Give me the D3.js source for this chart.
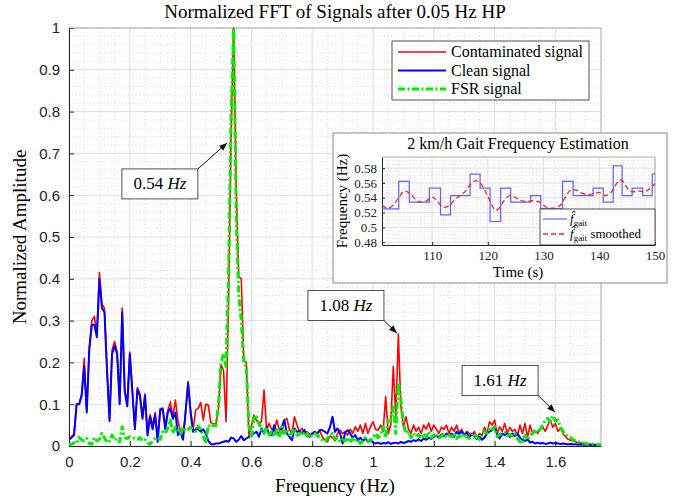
<!DOCTYPE html>
<html>
<head>
<meta charset="utf-8">
<script src="https://cdn.jsdelivr.net/npm/d3@7"></script>
<style>
  body { margin: 0; background: #fff; }
  svg { display: block; }
</style>
</head>
<body>
<div id="chart"></div>
<script>
// FFT bins are 1/120 Hz apart, 0 .. 1.75 Hz
const freqStep = 1 / 120;

const contaminated = [
  0.015,0.022,0.03,0.10,0.10,0.125,0.21,0.085,0.235,0.30,0.31,0.27,0.415,0.34,0.33,0.185,0.065,0.23,0.25,0.225,
  0.105,0.33,0.135,0.10,0.225,0.135,0.04,0.14,0.125,0.07,0.125,0.03,0.075,0.05,0.08,0.02,0.09,0.085,0.05,0.085,
  0.105,0.07,0.11,0.06,0.035,0.02,0.08,0.155,0.085,0.04,0.086,0.09,0.104,0.062,0.10,0.098,0.056,0.053,0.053,0.09,
  0.195,0.18,0.058,0.35,0.75,1.0,0.62,0.405,0.40,0.205,0.20,0.026,
  0.046,0.074,0.062,0.05,0.06,0.134,0.038,0.054,0.04,0.034,0.062,0.04,0.03,0.062,0.066,0.04,0.03,0.07,0.05,0.034,
  0.042,0.03,0.034,0.028,0.03,0.034,0.03,0.036,0.022,0.014,0.01,0.024,0.02,0.012,0.03,0.038,0.03,0.034,0.026,0.04,
  0.03,0.046,0.035,0.05,0.03,0.054,0.03,0.046,0.058,
  0.04,0.038,0.05,0.035,0.118,0.03,0.05,0.19,0.07,0.268,0.094,0.046,0.07,0.04,0.03,0.05,0.035,
  0.045,0.03,0.05,0.04,0.055,0.035,0.05,0.04,0.03,0.045,0.04,0.05,0.03,
  0.045,0.035,0.05,0.03,0.04,0.025,0.035,0.03,0.025,0.035,0.02,0.03,0.025,0.045,0.03,0.058,0.05,
  0.062,0.03,0.046,0.035,0.054,0.03,0.045,0.035,0.04,0.025,0.05,0.03,0.054,
  0.02,0.05,0.03,0.035,0.03,0.04,0.045,0.035,0.05,0.062,0.045,0.054,0.035,
  0.042,0.03,0.022,0.016,0.014,0.012,0.01,0.008,0.007,0.006,0.005,0.005,0.004,0.004,0.003,0.003,0.003
];

const clean = [
  0.015,0.02,0.026,0.10,0.10,0.12,0.19,0.08,0.23,0.29,0.29,0.26,0.40,0.33,0.32,0.18,0.06,0.22,0.24,0.22,
  0.10,0.32,0.13,0.095,0.22,0.13,0.04,0.135,0.12,0.065,0.12,0.025,0.07,0.04,0.075,0.01,0.085,0.09,0.04,0.08,
  0.09,0.065,0.08,0.026,0.034,0.015,0.08,0.15,0.08,0.034,0.04,0.04,0.035,0.04,0.03,
  0.012,0.005,0.004,0.006,0.006,0.008,0.01,0.012,0.01,0.02,0.018,0.01,0.015,0.024,0.014,0.018,0.022,
  0.026,0.03,0.034,0.022,0.042,0.03,0.046,0.028,0.026,0.05,0.034,0.03,0.046,0.062,0.03,0.022,0.014,0.042,0.034,0.036,
  0.03,0.038,0.024,0.022,0.03,0.034,0.03,0.038,0.038,0.034,0.03,0.045,0.07,0.034,0.042,0.03,0.006,0.032,0.038,0.03,
  0.02,0.026,0.014,0.02,0.012,0.018,0.01,0.016,0.008,
  0.006,0.008,0.005,0.007,0.006,0.009,0.005,0.007,0.008,0.006,0.01,0.007,0.009,0.012,0.01,0.014,0.012,
  0.016,0.012,0.018,0.015,0.02,0.017,0.022,0.025,0.02,0.028,0.024,0.03,0.026,
  0.03,0.022,0.034,0.028,0.035,0.026,0.032,0.02,0.03,0.024,0.016,0.022,0.015,0.02,0.03,0.034,0.038,
  0.045,
  0.028,0.018,0.03,0.026,0.03,0.022,0.03,0.024,0.03,0.02,0.015,0.012,
  0.016,0.008,0.01,0.006,0.008,0.006,0.007,0.005,0.006,0.008,0.006,0.007,
  0.006,0.005,0.006,0.005,0.004,0.005,0.004,0.004,0.003,0.004,0.003,0.003,0.003,0.002,0.003,0.002,0.002,0.002
];

const fsr = [
  0.005,0.004,0.008,0.006,0.02,0.015,0.012,0.018,0.006,0.004,0.02,0.012,0.016,0.03,0.02,0.008,0.012,0.026,0.014,0.018,
  0.01,0.046,0.02,0.018,0.022,0.02,0.018,0.016,0.02,0.012,0.015,0.008,0.004,0.012,0.018,0.02,0.016,0.034,0.03,0.042,
  0.062,0.03,0.045,0.04,0.03,0.045,0.036,0.04,0.045,0.04,0.035,0.048,0.04,0.022,0.01,0.05,0.045,0.05,
  0.048,0.10,0.20,0.22,0.19,0.42,0.80,1.0,0.55,0.36,0.30,0.20,0.19,0.05,
  0.02,0.072,0.07,0.054,0.038,0.03,0.046,0.026,0.034,0.022,0.038,0.02,0.046,0.03,0.04,0.028,0.03,0.042,0.026,0.028,
  0.035,0.024,0.03,0.02,0.028,0.03,0.026,0.02,0.014,0.01,0.018,0.026,0.03,0.016,0.02,0.01,0.015,0.012,0.02,0.008,
  0.018,0.01,0.016,0.006,0.012,0.02,0.01,0.014,0.02,
  0.03,0.02,0.026,0.046,0.02,0.06,0.062,0.094,0.03,0.152,0.11,0.054,0.03,0.035,0.02,0.03,0.022,
  0.028,0.018,0.03,0.022,0.034,0.02,0.026,0.03,0.018,0.024,0.03,0.02,0.026,
  0.022,0.03,0.018,0.025,0.02,0.03,0.022,0.018,0.025,0.03,0.02,0.016,0.028,0.035,0.03,0.045,0.04,
  0.046,0.022,0.028,0.03,0.032,0.025,0.028,0.024,0.03,0.018,0.01,0.006,0.026,
  0.015,0.026,0.03,0.04,0.032,0.04,0.05,0.062,0.066,0.058,0.072,0.06,0.062,
  0.045,0.035,0.028,0.022,0.02,0.015,0.012,0.01,0.008,0.007,0.006,0.005,0.005,0.004,0.004,0.003,0.003
];

const xTicks = [0, 0.2, 0.4, 0.6, 0.8, 1, 1.2, 1.4, 1.6];
const xTickLabels = ["0", "0.2", "0.4", "0.6", "0.8", "1", "1.2", "1.4", "1.6"];
const yTicks = [0, 0.1, 0.2, 0.3, 0.4, 0.5, 0.6, 0.7, 0.8, 0.9, 1];
const yTickLabels = ["0", "0.1", "0.2", "0.3", "0.4", "0.5", "0.6", "0.7", "0.8", "0.9", "1"];

const seriesNames = ["Contaminated signal", "Clean signal", "FSR signal"];

// peak annotations: label, arrow tip (Hz, amp), box centre (Hz, amp)
const peakLabels = ["0.54", "1.08", "1.61"];
const peakTips = [[0.52, 0.725], [1.079, 0.27], [1.599, 0.081]];
const peakBoxes = [[0.299, 0.627], [0.911, 0.336], [1.418, 0.157]];

// inset: gait frequency estimate (step) and smoothed version
const gaitStepTimes = [101,104.0,105.9,109.5,111.5,113.3,116.8,118.6,120.4,122.3,124.1,127.7,129.5,133.4,135.3,138.9,140.7,142.5,144.1,145.9,147.8,149.5,150];
const gaitStepFreq  = [0.525,0.562,0.534,0.553,0.517,0.543,0.572,0.553,0.508,0.553,0.534,0.543,0.525,0.562,0.543,0.553,0.534,0.583,0.543,0.553,0.543,0.572,0.572];
const smoothTimes = [101,102,103,104,105,106,107,108,109,110,111,112,113,114,115,116,117,117.8,118.5,119,120,121,121.5,122,123,124,125,126,127,128,129,130,131,132,133,134,135,136,137,138,139,140,141,142,143,143.8,144.5,145,146,147,148,149,150];
const smoothFreq  = [0.530,0.526,0.530,0.540,0.549,0.546,0.538,0.534,0.536,0.541,0.535,0.527,0.529,0.537,0.543,0.549,0.559,0.563,0.561,0.556,0.542,0.526,0.523,0.526,0.537,0.543,0.540,0.536,0.535,0.536,0.535,0.530,0.526,0.526,0.530,0.542,0.551,0.550,0.546,0.544,0.546,0.547,0.543,0.546,0.558,0.564,0.560,0.553,0.548,0.549,0.548,0.552,0.559];
const insetXTicks = [110, 120, 130, 140, 150];
const insetYTicks = [0.48, 0.5, 0.52, 0.54, 0.56, 0.58];
const insetYTickLabels = ["0.48", "0.5", "0.52", "0.54", "0.56", "0.58"];

const W = 686, H = 502;
const serif = "'Liberation Serif', 'Times New Roman', serif";
const sans = "'Liberation Sans', Arial, sans-serif";
const axisCol = "#262626";

const svg = d3.select("#chart").append("svg")
    .attr("width", W).attr("height", H)
    .attr("viewBox", [0, 0, W, H]);

const plot = {left: 69, right: 601, top: 28, bottom: 446};
const x = d3.scaleLinear().domain([0, 1.75]).range([plot.left, plot.right]);
const y = d3.scaleLinear().domain([0, 1]).range([plot.bottom, plot.top]);

// grid
function drawGrid(g, xs, ys, xMinor, yMinor, box) {
    g.append("g").selectAll("line").data(xMinor).join("line")
        .attr("x1", d => xs(d)).attr("x2", d => xs(d))
        .attr("y1", box.top).attr("y2", box.bottom)
        .attr("stroke", "#c8c8c8").attr("stroke-width", 0.7).attr("stroke-dasharray", "1,2.5");
    g.append("g").selectAll("line").data(yMinor).join("line")
        .attr("y1", d => ys(d)).attr("y2", d => ys(d))
        .attr("x1", box.left).attr("x2", box.right)
        .attr("stroke", "#c8c8c8").attr("stroke-width", 0.7).attr("stroke-dasharray", "1,2.5");
}

const gridG = svg.append("g");
const xMinor = d3.range(0, 1.7501, 0.05).filter(v => Math.abs(v / 0.2 - Math.round(v / 0.2)) > 1e-6);
const yMinor = d3.range(0, 1.0001, 0.02).filter(v => Math.abs(v / 0.1 - Math.round(v / 0.1)) > 1e-6);
drawGrid(gridG, x, y, xMinor, yMinor, plot);
gridG.append("g").selectAll("line").data(xTicks).join("line")
    .attr("x1", d => x(d)).attr("x2", d => x(d))
    .attr("y1", plot.top).attr("y2", plot.bottom)
    .attr("stroke", "#dedede").attr("stroke-width", 1);
gridG.append("g").selectAll("line").data(yTicks).join("line")
    .attr("y1", d => y(d)).attr("y2", d => y(d))
    .attr("x1", plot.left).attr("x2", plot.right)
    .attr("stroke", "#dedede").attr("stroke-width", 1);

// axes (MATLAB style, ticks inside)
const xAxis = svg.append("g")
    .attr("transform", `translate(0,${plot.bottom})`)
    .call(d3.axisBottom(x).tickValues(xTicks).tickFormat((d, i) => xTickLabels[i]).tickSizeInner(-5).tickSizeOuter(0).tickPadding(10));
const yAxis = svg.append("g")
    .attr("transform", `translate(${plot.left},0)`)
    .call(d3.axisLeft(y).tickValues(yTicks).tickFormat((d, i) => yTickLabels[i]).tickSizeInner(-5).tickSizeOuter(0).tickPadding(9));
[xAxis, yAxis].forEach(a => {
    a.selectAll("path").attr("stroke", axisCol);
    a.selectAll("line").attr("stroke", axisCol);
    a.selectAll("text").attr("fill", "#222").style("font-family", sans).style("font-size", "15px");
});
xAxis.selectAll("text").attr("dy", "0.75em");
// top and right box edges
svg.append("line").attr("x1", plot.left).attr("x2", plot.right).attr("y1", plot.top).attr("y2", plot.top)
    .attr("stroke", "#9a9a9a").attr("stroke-width", 0.8);
svg.append("line").attr("x1", plot.right).attr("x2", plot.right).attr("y1", plot.top).attr("y2", plot.bottom)
    .attr("stroke", "#9a9a9a").attr("stroke-width", 0.8);

// series
svg.append("clipPath").attr("id", "clipMain").append("rect")
    .attr("x", plot.left).attr("y", plot.top - 2).attr("width", plot.right - plot.left).attr("height", plot.bottom - plot.top + 2);
const line = d3.line().x((d, i) => x(i * freqStep)).y(d => y(d));
const lines = svg.append("g").attr("clip-path", "url(#clipMain)").attr("fill", "none")
    .attr("stroke-linejoin", "round");
lines.append("path").datum(contaminated).attr("d", line)
    .attr("stroke", "#ff0000").attr("stroke-width", 1.6);
lines.append("path").datum(clean).attr("d", line)
    .attr("stroke", "#0000ff").attr("stroke-width", 2);
lines.append("path").datum(fsr).attr("d", line)
    .attr("stroke", "#00ee00").attr("stroke-width", 3).attr("stroke-dasharray", "7,2.5,2,2.5");

// title and labels
svg.append("text").attr("x", (plot.left + plot.right) / 2).attr("y", 18)
    .attr("text-anchor", "middle").style("font-family", serif).style("font-size", "19px")
    .text("Normalized FFT of Signals after 0.05 Hz HP");
svg.append("text").attr("x", (plot.left + plot.right) / 2).attr("y", 492)
    .attr("text-anchor", "middle").style("font-family", serif).style("font-size", "19px")
    .text("Frequency (Hz)");
svg.append("text").attr("transform", `translate(26,${(plot.top + plot.bottom) / 2}) rotate(-90)`)
    .attr("text-anchor", "middle").style("font-family", serif).style("font-size", "19px")
    .text("Normalized Amplitude");

// legend
const legend = svg.append("g");
legend.append("rect").attr("x", 392).attr("y", 41).attr("width", 197).attr("height", 59)
    .attr("fill", "#fff").attr("stroke", axisCol).attr("stroke-width", 0.8);
const legStyles = [
    {c: "#ff0000", w: 1.6, dash: null},
    {c: "#0000ff", w: 2, dash: null},
    {c: "#00ee00", w: 3, dash: "7,2.5,2,2.5"}
];
seriesNames.forEach((name, i) => {
    const yy = 52 + i * 18.5;
    legend.append("line").attr("x1", 398).attr("x2", 446).attr("y1", yy).attr("y2", yy)
        .attr("stroke", legStyles[i].c).attr("stroke-width", legStyles[i].w)
        .attr("stroke-dasharray", legStyles[i].dash);
    legend.append("text").attr("x", 451).attr("y", yy + 5)
        .style("font-family", serif).style("font-size", "16px").text(name);
});

// arrowhead
svg.append("defs").append("marker")
    .attr("id", "arrowHead").attr("viewBox", "0 -5 10 10")
    .attr("refX", 10).attr("refY", 0)
    .attr("markerWidth", 8).attr("markerHeight", 8)
    .attr("markerUnits", "userSpaceOnUse")
    .attr("orient", "auto")
    .append("path").attr("d", "M0,-4L10,0L0,4Z").attr("fill", "#111");

// peak annotations
const boxW = 76, boxH = 30;
peakLabels.forEach((lab, i) => {
    const cx = x(peakBoxes[i][0]), cy = y(peakBoxes[i][1]);
    const tx = x(peakTips[i][0]), ty = y(peakTips[i][1]);
    const sx = cx + boxW / 2;
    const sy = ty < cy ? cy - boxH / 2 : cy + boxH / 2;
    svg.append("line").attr("x1", sx).attr("y1", sy).attr("x2", tx).attr("y2", ty)
        .attr("stroke", "#111").attr("stroke-width", 1).attr("marker-end", "url(#arrowHead)");
    svg.append("rect").attr("x", cx - boxW / 2).attr("y", cy - boxH / 2)
        .attr("width", boxW).attr("height", boxH)
        .attr("fill", "#fff").attr("stroke", axisCol).attr("stroke-width", 0.8);
    const t = svg.append("text").attr("x", cx).attr("y", cy + 5.5).attr("text-anchor", "middle")
        .style("font-family", serif).style("font-size", "17px");
    t.append("tspan").text(lab + " ");
    t.append("tspan").style("font-style", "italic").text("Hz");
});

// ---------- inset ----------
const inset = svg.append("g");
inset.append("rect").attr("x", 333).attr("y", 133).attr("width", 334).attr("height", 150)
    .attr("fill", "#fff").attr("stroke", "#8a8a8a").attr("stroke-width", 1);
const ib = {left: 382, right: 655, top: 157, bottom: 245};
const ix = d3.scaleLinear().domain([101, 150]).range([ib.left, ib.right]);
const iy = d3.scaleLinear().domain([0.4763, 0.595]).range([ib.bottom, ib.top]);

const iGrid = inset.append("g");
drawGrid(iGrid, ix, iy,
    d3.range(102, 150, 2).filter(v => v % 10 !== 0),
    d3.range(0.48, 0.595, 0.005).filter(v => Math.abs(v / 0.02 - Math.round(v / 0.02)) > 1e-6),
    ib);
iGrid.append("g").selectAll("line").data(insetXTicks).join("line")
    .attr("x1", d => ix(d)).attr("x2", d => ix(d)).attr("y1", ib.top).attr("y2", ib.bottom)
    .attr("stroke", "#dedede");
iGrid.append("g").selectAll("line").data(insetYTicks).join("line")
    .attr("y1", d => iy(d)).attr("y2", d => iy(d)).attr("x1", ib.left).attr("x2", ib.right)
    .attr("stroke", "#dedede");

const ixAxis = inset.append("g").attr("transform", `translate(0,${ib.bottom})`)
    .call(d3.axisBottom(ix).tickValues(insetXTicks).tickFormat(d3.format("d")).tickSizeInner(-3).tickSizeOuter(0).tickPadding(6));
const iyAxis = inset.append("g").attr("transform", `translate(${ib.left},0)`)
    .call(d3.axisLeft(iy).tickValues(insetYTicks).tickFormat((d, i) => insetYTickLabels[i]).tickSizeInner(-3).tickSizeOuter(0).tickPadding(5));
[ixAxis, iyAxis].forEach(a => {
    a.selectAll("path").attr("stroke", axisCol);
    a.selectAll("line").attr("stroke", axisCol);
    a.selectAll("text").attr("fill", "#222").style("font-family", serif).style("font-size", "13px");
});
inset.append("line").attr("x1", ib.left).attr("x2", ib.right).attr("y1", ib.top).attr("y2", ib.top)
    .attr("stroke", "#9a9a9a").attr("stroke-width", 0.8);
inset.append("line").attr("x1", ib.right).attr("x2", ib.right).attr("y1", ib.top).attr("y2", ib.bottom)
    .attr("stroke", "#9a9a9a").attr("stroke-width", 0.8);

const stepLine = d3.line().curve(d3.curveStepAfter)
    .x((d, i) => ix(gaitStepTimes[i])).y(d => iy(d));
inset.append("path").datum(gaitStepFreq).attr("d", stepLine)
    .attr("fill", "none").attr("stroke", "#6060ff").attr("stroke-width", 1.2);
const smoothLine = d3.line().curve(d3.curveMonotoneX)
    .x((d, i) => ix(smoothTimes[i])).y(d => iy(d));
inset.append("path").datum(smoothFreq).attr("d", smoothLine)
    .attr("fill", "none").attr("stroke", "#ff2020").attr("stroke-width", 1.3).attr("stroke-dasharray", "5,3");

inset.append("text").attr("x", 518).attr("y", 149).attr("text-anchor", "middle")
    .style("font-family", serif).style("font-size", "16px").text("2 km/h Gait Frequency Estimation");
inset.append("text").attr("x", 518).attr("y", 277).attr("text-anchor", "middle")
    .style("font-family", serif).style("font-size", "15px").text("Time (s)");
inset.append("text").attr("transform", `translate(347,${(ib.top + ib.bottom) / 2}) rotate(-90)`)
    .attr("text-anchor", "middle").style("font-family", serif).style("font-size", "15px").text("Frequency (Hz)");

// inset legend
const il = inset.append("g");
il.append("rect").attr("x", 540).attr("y", 209).attr("width", 115).attr("height", 36)
    .attr("fill", "#fff").attr("stroke", axisCol).attr("stroke-width", 0.8);
const insetNames = ["", " smoothed"];
[{c: "#6060ff", dash: null, w: 1.2}, {c: "#ff2020", dash: "5,3", w: 1.3}].forEach((s, i) => {
    const yy = 219 + i * 15;
    il.append("line").attr("x1", 543).attr("x2", 567).attr("y1", yy).attr("y2", yy)
        .attr("stroke", s.c).attr("stroke-width", s.w).attr("stroke-dasharray", s.dash);
    const t = il.append("text").attr("x", 570).attr("y", yy + 4)
        .style("font-family", serif).style("font-size", "13px");
    t.append("tspan").style("font-style", "italic").text("f\u0302");
    t.append("tspan").attr("dy", 3).style("font-size", "9px").text("gait");
    t.append("tspan").attr("dy", -3).text(insetNames[i]);
});
</script>
</body>
</html>
